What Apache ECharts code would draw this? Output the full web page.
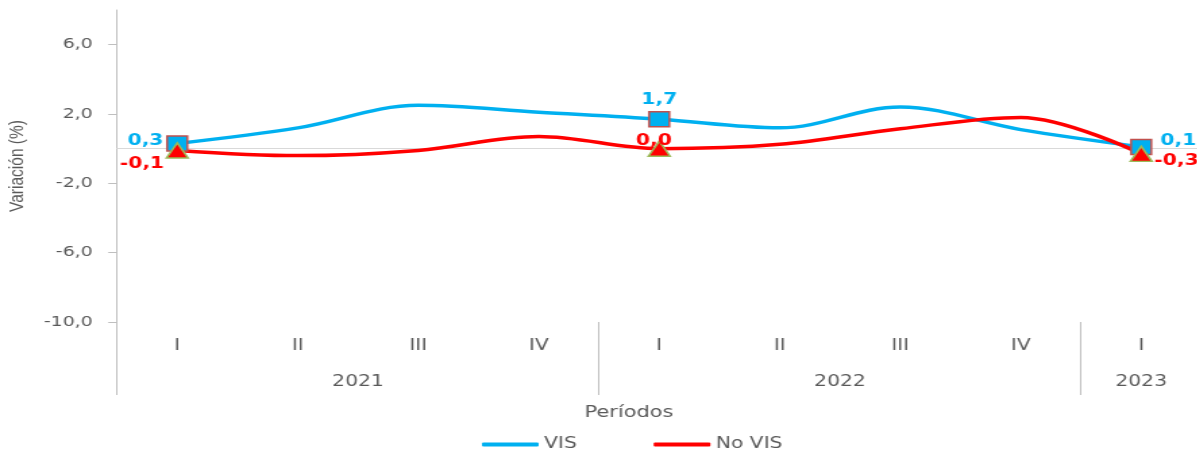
<!DOCTYPE html>
<html>
<head>
<meta charset="utf-8">
<title>Variación VIS / No VIS</title>
<script src="https://cdn.jsdelivr.net/npm/echarts@6/dist/echarts.min.js"></script>
<style>
  html, body { margin: 0; padding: 0; background: #fff; overflow: hidden; }
  /* the original picture is stretched horizontally, so is this one */
  #chart { width: 886.67px; height: 452px; transform: scaleX(1.35); transform-origin: 0 0; }
</style>
</head>
<body>
<div id="chart"></div>
<script>
const quarters = ['I', 'II', 'III', 'IV', 'I', 'II', 'III', 'IV', 'I']
const years = ['2021', '2022', '2023']
const quartersPerYear = [4, 4, 1]
const vis = [0.3, 1.2, 2.5, 2.1, 1.7, 1.2, 2.4, 1.1, 0.1]
const noVis = [-0.1, -0.4, -0.1, 0.7, 0.0, 0.25, 1.15, 1.8, -0.3]
const yTicks = [-10, -6, -2, 2, 6]
const markedIdx = [0, 4, 8]

const TEXT = '#595959'
const AXIS = '#BFBFBF'
const FONT = 'DejaVu Sans'

// year groups: label in the middle, separator at the boundaries
const yearCenters = []
const yearBounds = [-0.5]
let start = -0.5
quartersPerYear.forEach(n => {
  yearCenters.push(start + n / 2)
  start += n
  yearBounds.push(start)
})
yearBounds.pop()

const fmt = v => v.toFixed(1).replace('.', ',')

const visLabel = {
  0: { position: 'left', distance: 3, offset: [1, -2] },
  4: { position: 'top', distance: 3 },
  8: { position: 'right', distance: 4, offset: [2, -6] }
}
const noVisLabel = {
  0: { position: 'left', distance: 2, offset: [1, 14] },
  4: { position: 'top', distance: -8, offset: [-4, 0] },
  8: { position: 'right', distance: 3, offset: [-2, 7] }
}

const buildData = (values, symbol, size, fill, border, labels, color) =>
  values.map((v, i) => {
    if (!markedIdx.includes(i)) return { value: v, symbol: 'none' }
    return {
      value: v,
      symbol: symbol,
      symbolSize: size,
      itemStyle: { color: fill, borderColor: border, borderWidth: 1.5 },
      label: Object.assign({
        show: true,
        color: color,
        fontFamily: FONT,
        fontWeight: 'bold',
        fontSize: 15,
        formatter: p => fmt(p.value)
      }, labels[i])
    }
  })

const chart = echarts.init(document.getElementById('chart'))

const option = {
  animation: false,
  grid: { left: 86.67, top: 10, width: 803.3, height: 312, outerBoundsMode: 'none', containLabel: false },
  title: {
    text: 'Períodos',
    left: 433,
    top: 405,
    padding: 0,
    textStyle: { color: TEXT, fontFamily: FONT, fontSize: 15.5, fontWeight: 'normal' }
  },
  legend: {
    data: ['VIS', 'No VIS'],
    left: 357,
    top: 437,
    padding: 0,
    icon: 'roundRect',
    itemWidth: 42,
    itemHeight: 4,
    itemGap: 57,
    itemStyle: { borderWidth: 0 },
    textStyle: { color: TEXT, fontFamily: FONT, fontSize: 15, padding: [0, 0, 0, -1] }
  },
  xAxis: [
    {
      type: 'category',
      data: quarters,
      position: 'bottom',
      boundaryGap: true,
      axisLine: { show: false, onZero: false },
      axisTick: { show: false },
      axisLabel: { color: TEXT, fontFamily: FONT, fontSize: 15, margin: 17 },
      splitLine: { show: false }
    },
    {
      type: 'value',
      min: -0.5,
      max: 8.5,
      position: 'bottom',
      axisLine: { show: false, onZero: false },
      axisTick: {
        show: true,
        customValues: yearBounds,
        length: 73,
        lineStyle: { color: AXIS, width: 1 }
      },
      axisLabel: {
        show: true,
        customValues: yearCenters,
        color: TEXT,
        fontFamily: FONT,
        fontSize: 15,
        margin: 52.5,
        formatter: v => years[yearCenters.indexOf(v)]
      },
      splitLine: { show: false }
    },
    {
      // zero line
      type: 'value',
      min: -0.5,
      max: 8.5,
      position: 'bottom',
      axisLine: { show: true, onZero: true, onZeroAxisIndex: 0, lineStyle: { color: '#D9D9D9', width: 1 } },
      axisTick: { show: false },
      axisLabel: { show: false },
      splitLine: { show: false }
    }
  ],
  yAxis: {
    type: 'value',
    min: -10,
    max: 8,
    name: 'Variación (%)',
    nameLocation: 'middle',
    nameGap: 66,
    nameTextStyle: { color: TEXT, fontFamily: 'Liberation Sans', fontSize: 15.5 },
    axisLine: { show: true, onZero: false, lineStyle: { color: AXIS, width: 1 } },
    axisTick: { show: true, customValues: yTicks, length: 6.5, lineStyle: { color: AXIS } },
    axisLabel: {
      customValues: yTicks,
      color: TEXT,
      fontFamily: FONT,
      fontSize: 14,
      margin: 18,
      formatter: fmt
    },
    splitLine: { show: false }
  },
  series: [
    {
      name: 'VIS',
      type: 'line',
      smooth: 0.35,
      symbol: 'rect',
      showSymbol: true,
      color: '#00B0F0',
      lineStyle: { color: '#00B0F0', width: 3.5 },
      data: buildData(vis, 'rect', [15, 15], '#00B0F0', '#C0504D', visLabel, '#00B0F0')
    },
    {
      name: 'No VIS',
      type: 'line',
      smooth: 0.35,
      symbol: 'triangle',
      showSymbol: true,
      color: '#FF0000',
      lineStyle: { color: '#FF0000', width: 3.5 },
      data: buildData(noVis, 'triangle', [16, 15], '#FF0000', '#9BBB59', noVisLabel, '#FF0000')
    }
  ]
}

chart.setOption(option)
</script>
</body>
</html>
